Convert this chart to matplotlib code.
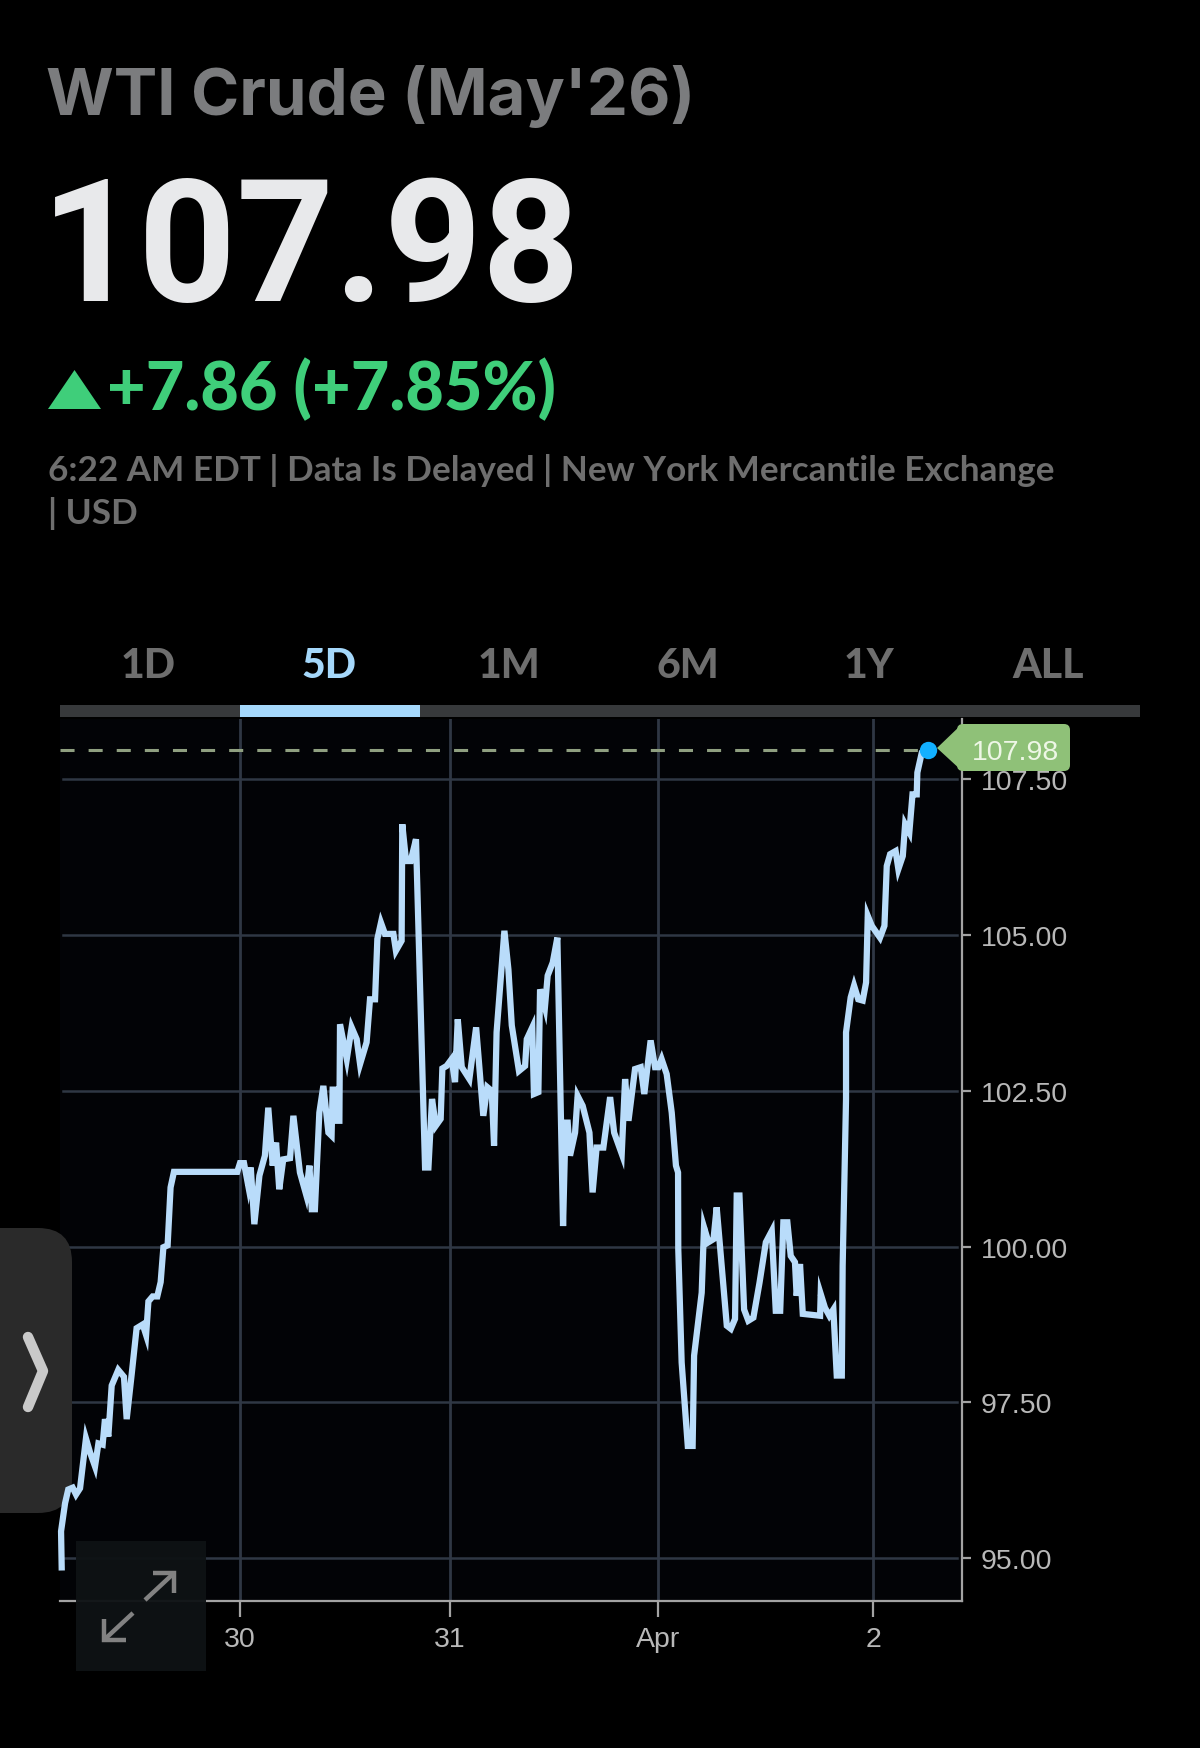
import matplotlib
matplotlib.use("Agg")
import matplotlib.pyplot as plt
from matplotlib.patches import FancyBboxPatch, Polygon, Rectangle
from matplotlib.lines import Line2D
from matplotlib.transforms import Affine2D

W, H = 1200, 1749

# ---- data (x = trading days since 30 Mar, y = price) ----
days = [-0.845,-0.848,-0.829,-0.814,-0.793,-0.777,-0.758,-0.730,-0.711,-0.687,-0.671,-0.651,-0.640,-0.624,-0.608,-0.577,-0.550,-0.537,-0.513,-0.490,-0.461,-0.445,-0.434,-0.414,-0.392,-0.376,-0.363,-0.343,-0.329,-0.313,-0.013,0.000,0.019,
0.039,0.051,0.068,0.092,0.118,0.134,0.155,0.171,0.186,0.205,0.237,0.253,0.284,0.313,0.329,0.340,0.355,0.376,0.395,0.419,0.434,0.439,0.461,0.461,0.471,0.474,0.506,0.529,0.553,0.569,0.600,0.616,0.640,0.651,0.668,0.687,0.727,0.739,0.766,0.769,0.787,0.809,0.834,
0.877,0.893,0.910,0.928,0.951,0.959,0.979,1.003,1.019,1.032,1.051,1.087,1.119,1.153,1.172,1.193,1.204,1.216,1.253,1.272,1.288,1.322,1.351,1.359,1.385,1.393,1.414,1.422,1.445,1.458,1.482,1.504,1.531,1.543,1.553,1.564,1.588,1.600,1.624,1.656,1.671,1.690,1.722,1.754,1.773,1.809,1.825,1.841,1.872,1.899,1.916,1.946,1.967,1.983,1.998,2.022,2.046,2.066,
2.076,2.077,2.093,2.122,2.145,2.152,2.188,2.199,2.220,2.244,2.259,2.307,2.326,2.346,2.354,2.367,2.389,2.409,2.433,2.462,2.492,2.520,2.539,2.560,2.575,2.594,2.610,2.630,2.638,2.654,2.667,2.749,2.752,2.772,2.793,2.812,2.828,2.852,2.856,2.872,
2.872,2.894,2.910,2.930,2.951,2.967,2.975,2.994,3.033,3.054,3.065,3.081,3.107,3.120,3.141,3.152,3.172,3.187,3.207,3.210,3.231,3.262]
prices = [94.85,95.43,95.88,96.10,96.13,96.02,96.12,96.92,96.70,96.47,96.84,96.82,97.23,96.95,97.77,98.02,97.91,97.23,97.96,98.69,98.75,98.58,99.12,99.20,99.20,99.43,99.99,100.02,100.95,101.20,101.20,101.34,101.34,
100.98,101.27,100.36,101.14,101.46,102.23,101.30,101.67,100.92,101.40,101.42,102.10,101.19,100.84,101.30,100.60,100.60,102.15,102.58,101.83,101.78,102.52,102.52,102.02,102.02,103.57,103.01,103.52,103.33,102.93,103.28,103.97,103.97,104.94,105.20,105.02,105.02,104.75,104.91,106.78,106.19,106.19,106.54,
101.27,101.27,102.37,101.94,102.05,102.86,102.90,103.01,102.64,103.65,102.88,102.69,103.52,102.10,102.56,102.50,101.62,103.44,105.07,104.45,103.55,102.82,102.90,103.33,103.52,102.45,102.48,104.13,103.84,104.35,104.56,104.96,100.33,101.99,101.99,101.46,101.83,102.42,102.26,101.83,100.87,101.59,101.59,102.40,101.83,101.49,102.69,102.02,102.85,102.88,102.45,103.31,102.88,102.88,103.01,102.77,102.15,101.30,
101.19,99.96,98.14,96.80,96.80,98.25,99.26,100.31,100.07,100.12,100.63,98.73,98.68,98.84,100.82,100.82,98.99,98.81,98.86,99.42,100.07,100.25,98.97,98.97,100.39,100.39,99.85,99.75,99.21,99.72,98.92,98.89,99.24,99.02,98.89,98.99,97.93,97.93,99.69,102.37,
103.44,104.00,104.19,103.97,103.95,104.24,105.31,105.15,104.96,105.15,106.11,106.30,106.35,106.06,106.27,106.78,106.65,107.26,107.26,107.61,107.93,107.98]
last_price = 107.98
y_ticks = [95.0, 97.5, 100.0, 102.5, 105.0, 107.5]
x_ticks = [0.0, 0.994, 1.982, 3.0]
x_tick_labels = ["30", "31", "Apr", "2"]
tab_labels = ["1D", "5D", "1M", "6M", "1Y", "ALL"]

title = "WTI Crude (May'26)"
price_text = "107.98"
change_text = "+7.86 (+7.85%)"
meta_lines = ["6:22 AM EDT | Data Is Delayed | New York Mercantile Exchange", "| USD"]

UI = "Lato"
TICK = "Liberation Sans"
px = Affine2D().scale(1, -1).translate(0, H)   # chrome positioned in image pixels

fig = plt.figure(figsize=(W / 100, H / 100), dpi=100, facecolor="black")
ax = fig.add_axes([60 / W, 1 - 1601.6 / H, 902.3 / W, 881.6 / H], facecolor="#020306")
ax.set_xlim(-0.853, 3.423)
ax.set_ylim(94.317, 108.47)

for s in ("top", "left"):
    ax.spines[s].set_visible(False)
for s in ("right", "bottom"):
    ax.spines[s].set_color("#a3a3a3")
    ax.spines[s].set_linewidth(1.6)

ax.set_yticks(y_ticks, [f"{v:.2f}" for v in y_ticks])
ax.yaxis.tick_right()
ax.set_xticks(x_ticks, x_tick_labels)
ax.tick_params(axis="y", length=6.5, width=1.6, color="#a3a3a3", pad=7, labelsize=20.5, labelcolor="#b8b8b8")
ax.tick_params(axis="x", length=11.5, width=1.6, color="#a3a3a3", pad=7, labelsize=20.5, labelcolor="#b8b8b8")
for t in ax.get_xticklabels() + ax.get_yticklabels():
    t.set_fontfamily(TICK)
for t in ax.get_yticklabels():
    t.set_verticalalignment("center_baseline")

for v in y_ticks:
    ax.plot([-0.84, 3.40], [v, v], color="#2f3744", lw=1.8, zorder=1)
for v in x_ticks:
    ax.axvline(v, color="#2f3744", lw=2.0, zorder=1)

# side handle sits above the grid, below the price line
ax.add_patch(FancyBboxPatch((-40, 1229), 112, 285, boxstyle="round,pad=0,rounding_size=34",
                            transform=px, fc="#2a2a2a", ec="none", zorder=1.5, clip_on=False))
ax.add_line(Line2D([28, 43, 28], [1338, 1372, 1408], transform=px, color="#c9c9c9", lw=7.5,
                   solid_capstyle="round", solid_joinstyle="round", zorder=1.6, clip_on=False))

ax.plot(days, prices, color="#b9dcfa", lw=4.5, solid_joinstyle="miter", zorder=3, clip_on=False)
ax.plot([-0.853, 3.23], [last_price, last_price], color="#8f9f80", lw=2.2, dashes=(4.6, 4.6), zorder=2)
ax.plot(days[-1], prices[-1], "o", ms=12.5, mfc="#12b0ff", mec="none", zorder=6, clip_on=False)

# price tag
fig.add_artist(Polygon([(937, 749), (962, 725), (962, 772)], closed=True, transform=px, fc="#8fc178", ec="none", zorder=4))
fig.add_artist(FancyBboxPatch((957, 725), 113, 47, boxstyle="round,pad=0,rounding_size=6",
                              transform=px, fc="#8fc178", ec="none", zorder=4))
fig.text(1016, 750, price_text, transform=px, color="#eef7e6", fontsize=20.5, family=TICK, ha="center", va="center_baseline", zorder=5)

# expand button
fig.add_artist(Rectangle((76, 1542), 130, 130, transform=px, fc="#0e1214", ec="none", alpha=0.96, zorder=4))
for xs, ys in (([145, 173], [1601, 1575]), ([153, 174, 174], [1574, 1574, 1594]),
               ([133, 105], [1614, 1640]), ([104, 104, 126], [1620, 1641, 1641])):
    fig.add_artist(Line2D(xs, ys, transform=px, color="#828282", lw=3.2, solid_joinstyle="miter", solid_capstyle="butt", zorder=5))

# header
fig.text(46, 115, title, transform=px, color="#7b7c7e", fontsize=47, family="Inter", weight="bold")
fig.text(41, 301, price_text, transform=px, color="#e8e9eb", fontsize=123, family="Roboto", weight="bold")
fig.add_artist(Polygon([(48, 410), (74.5, 371), (101, 410)], closed=True, transform=px, fc="#3fce7a", ec="none"))
fig.text(107, 410, change_text, transform=px, color="#3fce7a", fontsize=48, family=UI, weight="black")
fig.text(48, 481, meta_lines[0], transform=px, color="#6e6e6e", fontsize=25.3, family=UI, weight="bold")
fig.text(48, 524, meta_lines[1], transform=px, color="#6e6e6e", fontsize=25.3, family=UI, weight="bold")

# range tabs
fig.add_artist(Rectangle((60, 706), 1080, 12, transform=px, fc="#37393b", ec="none"))
fig.add_artist(Rectangle((240, 706), 180, 12, transform=px, fc="#a5d8fb", ec="none", zorder=1.1))
for i, (lab, cx) in enumerate(zip(tab_labels, [148.3, 329, 508.5, 688, 869, 1048.5])):
    fig.text(cx, 678, lab, transform=px, ha="center", color="#a5d8fb" if i == 1 else "#6e6e6e",
             fontsize=29.5, family=UI, weight="black")

fig.savefig("out.png", dpi=100, facecolor="black")
